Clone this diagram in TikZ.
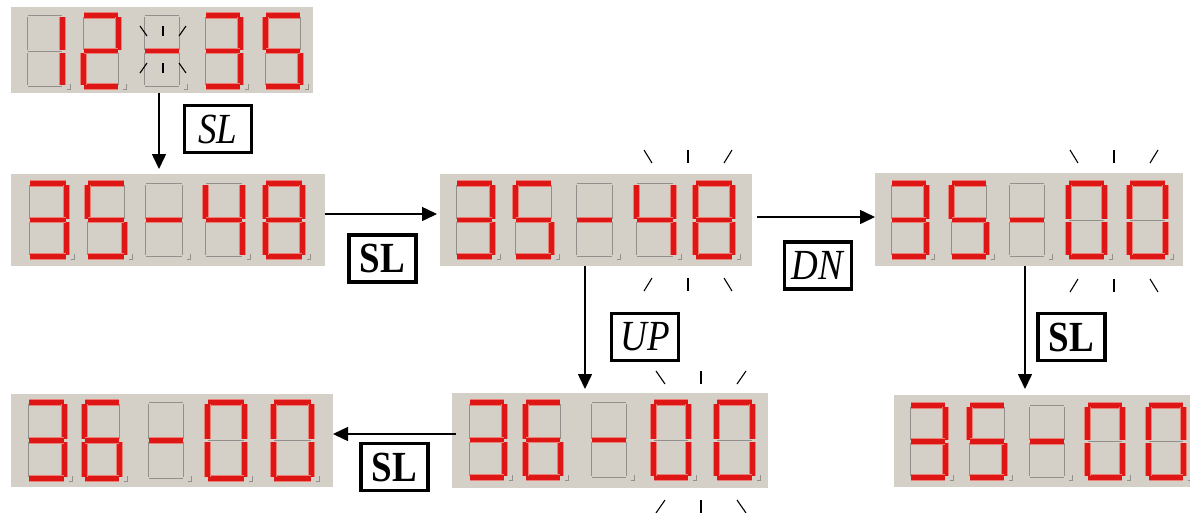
\documentclass[tikz,border=0pt]{standalone}
\usepackage{fontspec}
\setmainfont{Liberation Serif}
\usetikzlibrary{arrows.meta,calc}
\definecolor{panelgray}{RGB}{212,208,200}
\definecolor{segred}{RGB}{222,22,22}
\definecolor{seghalo}{RGB}{236,128,118}
\definecolor{segoff}{RGB}{146,144,140}
\tikzset{
  panel/.style={fill=panelgray, draw=none, inner sep=0pt, outer sep=0pt},
  seghalo/.style={draw=seghalo, line width=6.2pt},
  segon/.style={draw=segred, line width=4.8pt},
  segdim/.style={draw=segoff, line width=1pt},
  dp/.style={draw=segoff, line width=0.8pt},
  flash/.style={draw=black, line width=1.1pt},
  keybox/.style={draw=black, line width=3.8pt, fill=white, minimum width=67pt,
    minimum height=47pt, inner sep=0pt, font=\fontsize{37}{40}\selectfont},
  flow/.style={line width=1.5pt, -{Triangle[length=15pt,width=14pt]}},
}
\makeatletter
% one seven-segment cell: left x, top y, width, height, lit segments
\newcommand\segdigit[5]{%
  \begingroup
  \def\dW{#3}\def\dH{#4}%
  \begin{scope}[shift={(#1,#2)}]
    \def\seglist{a/3/2.5/\dW-3/2.5, b/\dW-2.5/4/\dW-2.5/\dH*0.5-1.5,
      c/\dW-2.5/\dH*0.5+1.5/\dW-2.5/\dH-4, d/3/\dH-2.5/\dW-3/\dH-2.5,
      e/2.5/\dH*0.5+1.5/2.5/\dH-4, f/2.5/4/2.5/\dH*0.5-1.5,
      g/3/\dH*0.5/\dW-3/\dH*0.5}%
    \foreach \s/\xa/\ya/\xb/\yb in \seglist {
      \draw[segdim] (\xa,\ya) -- (\xb,\yb);
    }
    \foreach \s/\xa/\ya/\xb/\yb in \seglist {
      \edef\seg@test{\noexpand\in@{\s}{#5}}\seg@test
      \ifin@
        \draw[seghalo] (\xa,\ya) -- (\xb,\yb);
        \draw[segon] (\xa,\ya) -- (\xb,\yb);
      \fi
    }
    \draw[dp] (\dW+5,\dH-5) -- (\dW+5,\dH) -- (\dW+1.5,\dH);
  \end{scope}
  \endgroup}
\makeatother
% blinking marks above and below a group of cells:
% centre x, upper y, lower y, inner offset, outer offset, length
\newcommand\flashmarks[6]{%
  \draw[flash] (#1-#5,#2) -- (#1-#4,#2+#6);
  \draw[flash] (#1,#2) -- (#1,#2+#6);
  \draw[flash] (#1+#5,#2) -- (#1+#4,#2+#6);
  \draw[flash] (#1-#4,#3) -- (#1-#5,#3+#6);
  \draw[flash] (#1,#3) -- (#1,#3+#6);
  \draw[flash] (#1+#4,#3) -- (#1+#5,#3+#6);
}
\begin{document}
\begin{tikzpicture}[x=1pt,y=-1pt]
\useasboundingbox (0,0) rectangle (1190,512);
\clip (0,0) rectangle (1190,512);
\fill[white] (0,0) rectangle (1190,512);

% panels
\node[panel, minimum width=302pt, minimum height=86pt] (d1) at (162,50) {};
\node[panel, minimum width=314pt, minimum height=92pt] (d2) at (168,220) {};
\node[panel, minimum width=312pt, minimum height=92pt] (d3) at (596,220) {};
\node[panel, minimum width=308pt, minimum height=93pt] (d4) at (1029,219.5) {};
\node[panel, minimum width=322pt, minimum height=93pt] (d5) at (172,440.5) {};
\node[panel, minimum width=316pt, minimum height=95pt] (d6) at (610,440.5) {};
\node[panel, minimum width=316pt, minimum height=92pt] (d7) at (1052,441) {};

% 12-35
\segdigit{25}{13}{40}{76}{bc}
\segdigit{81}{13}{40}{76}{abdeg}
\segdigit{142}{13}{40}{76}{g}
\segdigit{203}{13}{40}{76}{abcdg}
\segdigit{263}{13}{40}{76}{acdfg}
% 35-48
\segdigit{27}{181}{42}{78}{abcdg}
\segdigit{85}{181}{42}{78}{acdfg}
\segdigit{143}{181}{42}{78}{g}
\segdigit{203}{181}{42}{78}{bcfg}
\segdigit{263}{181}{42}{78}{abcdefg}
% 35-48 (blinking minutes)
\segdigit{454}{181}{41}{78}{abcdg}
\segdigit{513}{181}{41}{78}{acdfg}
\segdigit{574}{181}{41}{78}{g}
\segdigit{634}{181}{42}{78}{bcfg}
\segdigit{693}{181}{42}{78}{abcdefg}
% 35-00 (blinking minutes)
\segdigit{889}{181}{40}{78}{abcdg}
\segdigit{949}{181}{40}{78}{acdfg}
\segdigit{1007}{181}{40}{78}{g}
\segdigit{1066}{181}{41}{78}{abcdef}
\segdigit{1127}{181}{41}{78}{abcdef}
% 36-00
\segdigit{26}{400}{41}{81}{abcdg}
\segdigit{82}{400}{40}{81}{acdefg}
\segdigit{146}{400}{40}{81}{g}
\segdigit{205}{400}{42}{81}{abcdef}
\segdigit{271}{400}{43}{81}{abcdef}
% 36-00 (blinking minutes)
\segdigit{467}{400}{40}{80}{abcdg}
\segdigit{523}{400}{40}{80}{acdefg}
\segdigit{589}{400}{40}{80}{g}
\segdigit{651}{400}{40}{80}{abcdef}
\segdigit{714}{400}{41}{80}{abcdef}
% 35-00
\segdigit{908}{403}{40}{77}{abcdg}
\segdigit{967}{403}{40}{77}{acdfg}
\segdigit{1027}{403}{40}{77}{g}
\segdigit{1085}{403}{40}{77}{abcdef}
\segdigit{1146}{403}{40}{77}{abcdef}

% blinking marks
\flashmarks{163}{26}{63}{16}{23}{10}
\flashmarks{688}{150}{278}{36}{44}{13}
\flashmarks{1114}{150}{279}{36}{44}{13}
\flashmarks{701}{371}{500}{36}{45}{13}

% key labels
\node[keybox] (k1) at (218,129) {\scalebox{1}[1.16]{\textit{SL}}};
\node[keybox] (k2) at (382.5,258.5) {\scalebox{1}[1.16]{\textbf{SL}}};
\node[keybox] (k3) at (818,265.5) {\scalebox{1}[1.16]{\textit{DN}}};
\node[keybox] (k4) at (645,337) {\scalebox{1}[1.16]{\textit{UP}}};
\node[keybox] (k5) at (1071.5,337) {\scalebox{1}[1.16]{\textbf{SL}}};
\node[keybox] (k6) at (394.5,467) {\scalebox{1}[1.16]{\textbf{SL}}};

% transitions
\coordinate (s1) at ([xshift=-3pt]d1.south);
\draw[flow, shorten >=5pt] (s1) -- (s1 |- d2.north);
\coordinate (s2) at ([yshift=6pt]d2.east);
\draw[flow, shorten >=3pt] (s2) -- (s2 -| d3.west);
\coordinate (s3) at ([xshift=5pt,yshift=3pt]d3.east);
\draw[flow] (s3) -- (s3 -| d4.west);
\coordinate (s4) at ([xshift=-11pt]d3.south);
\draw[flow, shorten >=4pt] (s4) -- (s4 |- d6.north);
\coordinate (s5) at ([xshift=-4pt]d4.south);
\draw[flow, shorten >=6pt] (s5) -- (s5 |- d7.north);
\coordinate (s6) at ([xshift=4pt,yshift=6.5pt]d6.west);
\draw[flow] (s6) -- (s6 -| d5.east);
\end{tikzpicture}
\end{document}
